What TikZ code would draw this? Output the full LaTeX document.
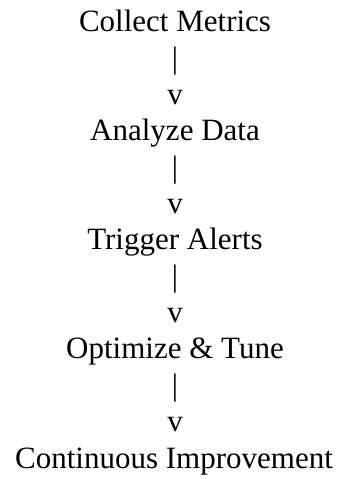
\documentclass[tikz,border=0pt]{standalone}
\usepackage{fontspec}
\setmainfont{Liberation Serif}
\begin{document}
\begin{tikzpicture}[x=1pt,y=1pt,
  txt/.style={anchor=base,inner sep=0pt,font=\fontsize{31}{34}\selectfont}]
\useasboundingbox (0,0) rectangle (345,-479);
\def\dy{36.36}
\def\yo{31.7}
\node[txt] (n1) at (175,-\yo) {Collect Metrics};
\node[txt] (b1) at (175,-\yo-1*\dy) {|};
\node[txt] (v1) at (175,-\yo-2*\dy) {v};
\node[txt] (n2) at (175,-\yo-3*\dy) {Analyze Data};
\node[txt] (b2) at (175,-\yo-4*\dy) {|};
\node[txt] (v2) at (175,-\yo-5*\dy) {v};
\node[txt] (n3) at (175,-\yo-6*\dy) {Trigger Alerts};
\node[txt] (b3) at (175,-\yo-7*\dy) {|};
\node[txt] (v3) at (175,-\yo-8*\dy) {v};
\node[txt] (n4) at (175,-\yo-9*\dy) {Optimize \& Tune};
\node[txt] (b4) at (175,-\yo-10*\dy) {|};
\node[txt] (v4) at (175,-\yo-11*\dy) {v};
\node[txt] (n5) at (174,-\yo-12*\dy) {Continuous Improvement};
\end{tikzpicture}
\end{document}
